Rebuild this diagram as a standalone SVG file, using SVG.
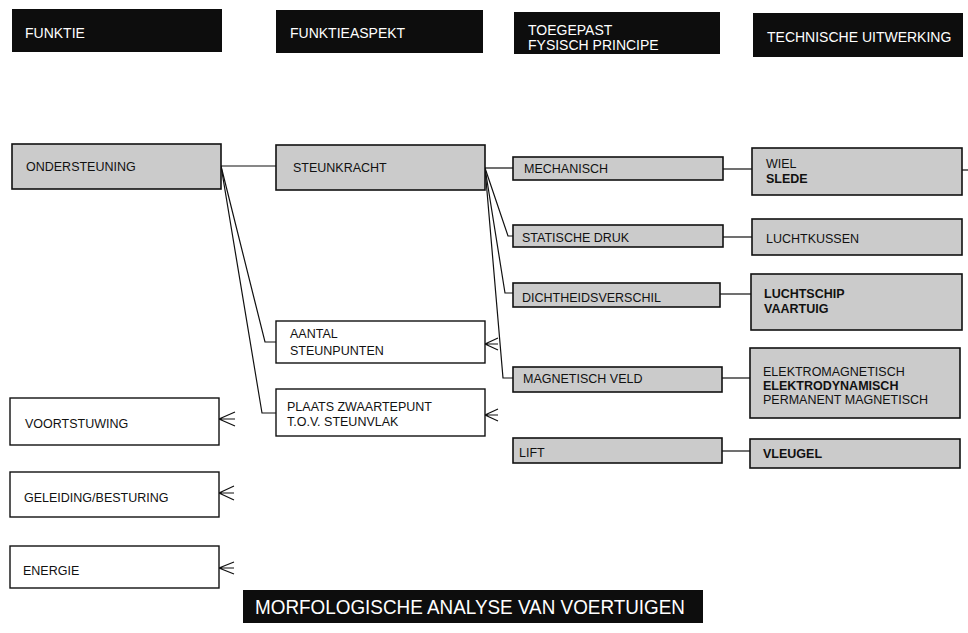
<svg xmlns="http://www.w3.org/2000/svg" width="968" height="633" viewBox="0 0 968 633">
<style>
.hd{fill:#0d0d0d}
.ht{fill:#fff;font-family:"Liberation Sans",Arial,sans-serif;font-size:14px}
.g{fill:#cbcbcb;stroke:#111;stroke-width:1.6}
.w{fill:#fff;stroke:#111;stroke-width:1.4}
.t{fill:#111;font-family:"Liberation Sans",Arial,sans-serif;font-size:12.5px}
.b{font-weight:bold}
.c{fill:none;stroke:#111;stroke-width:1.2}
</style>
<rect width="968" height="633" fill="#fff"/>
<g id="header-funktie"><rect class="hd" x="12" y="9" width="210" height="43"/><text class="ht" x="25" y="38">FUNKTIE</text></g>
<g id="header-funktieaspekt"><rect class="hd" x="276" y="10" width="207" height="43"/><text class="ht" x="290" y="38">FUNKTIEASPEKT</text></g>
<g id="header-principe"><rect class="hd" x="514" y="12" width="206" height="42"/><text class="ht" x="528" y="35">TOEGEPAST</text><text class="ht" x="528" y="50">FYSISCH PRINCIPE</text></g>
<g id="header-uitwerking"><rect class="hd" x="753" y="13" width="210" height="44"/><text class="ht" x="767" y="42">TECHNISCHE UITWERKING</text></g>

<g id="connectors">
<path class="c" d="M221 166H276"/>
<path class="c" d="M221 166L265 342H276"/>
<path class="c" d="M221 166L262 413H276"/>
<path class="c" d="M485 168H513"/>
<path class="c" d="M485 168L508 236H513"/>
<path class="c" d="M485 168L505 293H513"/>
<path class="c" d="M485 168L503 378H513"/>
<path class="c" d="M723 169H752"/>
<path class="c" d="M723 237H752"/>
<path class="c" d="M720 294H751"/>
<path class="c" d="M722 378H750"/>
<path class="c" d="M722 451H750"/>
<path class="c" d="M962 170H968"/>
<path class="c" d="M498 338L485 344L498 350M485 344H498"/>
<path class="c" d="M498 409L485 415L498 421M485 415H498"/>
<path class="c" d="M235 412L219 419L235 426M219 419H235"/>
<path class="c" d="M234 486L219 493L234 500M219 493H234"/>
<path class="c" d="M234 562L219 568L234 574M219 568H234"/>
</g>

<g id="ondersteuning"><rect class="g" x="12" y="144" width="209" height="45"/><text class="t" x="26" y="171">ONDERSTEUNING</text></g>
<g id="steunkracht"><rect class="g" x="276" y="145" width="209" height="45"/><text class="t" x="293" y="172">STEUNKRACHT</text></g>
<g id="aantal"><rect class="w" x="276" y="321" width="209" height="42"/><text class="t" x="290" y="338">AANTAL</text><text class="t" x="290" y="355">STEUNPUNTEN</text></g>
<g id="plaats"><rect class="w" x="276" y="389" width="209" height="47"/><text class="t" x="287" y="411">PLAATS ZWAARTEPUNT</text><text class="t" x="287" y="426">T.O.V. STEUNVLAK</text></g>
<g id="voortstuwing"><rect class="w" x="10" y="398" width="209" height="47"/><text class="t" x="25" y="428">VOORTSTUWING</text></g>
<g id="geleiding"><rect class="w" x="10" y="472" width="209" height="45"/><text class="t" x="24" y="502">GELEIDING/BESTURING</text></g>
<g id="energie"><rect class="w" x="10" y="546" width="209" height="42"/><text class="t" x="23" y="575">ENERGIE</text></g>

<g id="mechanisch"><rect class="g" x="513" y="157" width="210" height="23"/><text class="t" x="524" y="173">MECHANISCH</text></g>
<g id="statische"><rect class="g" x="513" y="225" width="210" height="22"/><text class="t" x="522" y="242">STATISCHE DRUK</text></g>
<g id="dichtheid"><rect class="g" x="513" y="283" width="207" height="24"/><text class="t" x="522" y="302">DICHTHEIDSVERSCHIL</text></g>
<g id="magnetisch"><rect class="g" x="513" y="367" width="209" height="25"/><text class="t" x="523" y="383">MAGNETISCH VELD</text></g>
<g id="lift"><rect class="g" x="513" y="438" width="209" height="25"/><text class="t" x="519" y="457">LIFT</text></g>

<g id="wiel"><rect class="g" x="752" y="148" width="210" height="47"/><text class="t" x="766" y="168">WIEL</text><text class="t b" x="766" y="183">SLEDE</text></g>
<g id="luchtkussen"><rect class="g" x="752" y="219" width="210" height="36"/><text class="t" x="766" y="243">LUCHTKUSSEN</text></g>
<g id="luchtschip"><rect class="g" x="751" y="274" width="211" height="56"/><text class="t b" x="764" y="298">LUCHTSCHIP</text><text class="t b" x="764" y="313">VAARTUIG</text></g>
<g id="elektro"><rect class="g" x="750" y="348" width="210" height="70"/><text class="t" x="763" y="376">ELEKTROMAGNETISCH</text><text class="t b" x="763" y="390">ELEKTRODYNAMISCH</text><text class="t" x="763" y="404">PERMANENT MAGNETISCH</text></g>
<g id="vleugel"><rect class="g" x="750" y="439" width="210" height="29"/><text class="t b" x="763" y="458">VLEUGEL</text></g>

<g id="title"><rect class="hd" x="243" y="590" width="460" height="33"/><text class="ht" x="255" y="614" style="font-size:21px" textLength="430" lengthAdjust="spacingAndGlyphs">MORFOLOGISCHE ANALYSE VAN VOERTUIGEN</text></g>
</svg>
